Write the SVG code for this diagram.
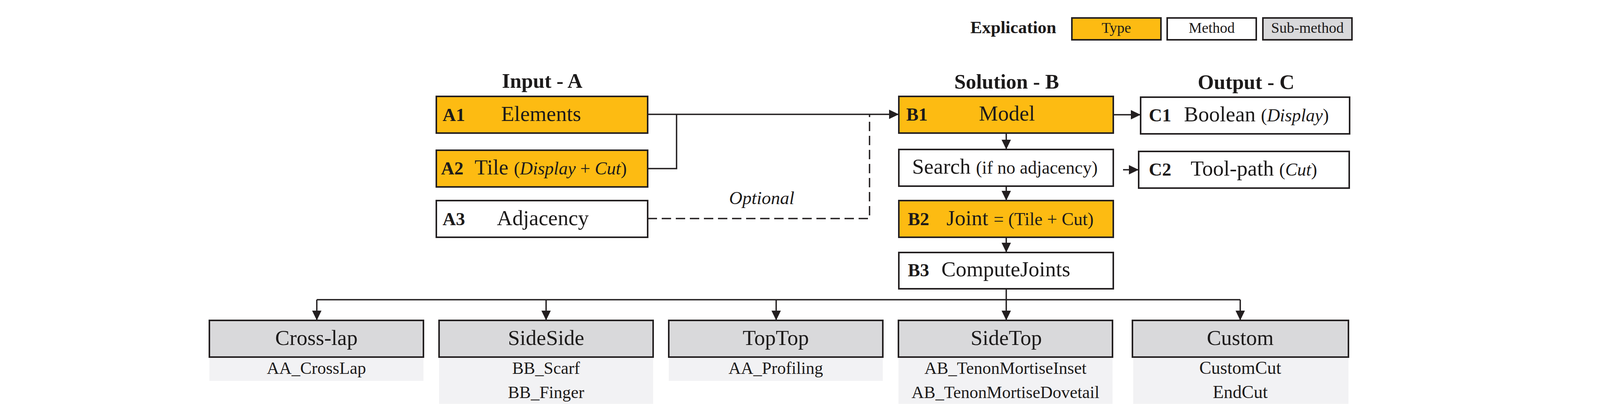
<svg xmlns="http://www.w3.org/2000/svg" width="4102" height="1066" viewBox="0 0 4102 1066">
<style>
text{font-family:"Liberation Serif","Times New Roman",serif;fill:#1c1a1a}
.box{stroke:#231f20;stroke-width:4}
.type{fill:#fdbb12}
.method{fill:#ffffff}
.sub{fill:#d9d9db}
.subsub{fill:#f2f2f4;stroke:none}
.lbl{font-weight:bold;font-size:47px}
.main{font-size:55px}
.sm{font-size:46px}
.it{font-style:italic}
.hdr{font-weight:bold;font-size:53px;text-anchor:middle}
.leg{font-size:38px;text-anchor:middle}
.ttl{font-size:55px;text-anchor:middle}
.st{font-size:44px;text-anchor:middle}
.st2{font-size:46px;text-anchor:middle}
.ln{fill:none;stroke:#231f20;stroke-width:3.5}
.arr{marker-end:url(#ah)}
.dash{stroke-dasharray:24 12}
</style>
<defs>
<marker id="ah" markerUnits="userSpaceOnUse" markerWidth="26" markerHeight="24" refX="25" refY="12" orient="auto">
<path d="M0,0 L25,12 L0,24 z" fill="#231f20"/>
</marker>
</defs>

<g id="legend">
<text x="2484" y="85" font-weight="bold" font-size="45">Explication</text>
<rect class="box type" x="2744" y="46" width="228" height="56"/>
<text class="leg" x="2858" y="84">Type</text>
<rect class="box method" x="2988" y="46" width="228" height="56"/>
<text class="leg" x="3102" y="84">Method</text>
<rect class="box sub" x="3233" y="46" width="228" height="56"/>
<text class="leg" x="3347" y="84">Sub-method</text>
</g>

<g id="headers">
<text class="hdr" x="1388" y="225">Input - A</text>
<text class="hdr" x="2577" y="227">Solution - B</text>
<text class="hdr" x="3190" y="228">Output - C</text>
</g>

<g id="connectors">
<line class="ln arr" x1="1658" y1="293" x2="2301" y2="293"/>
<polyline class="ln" points="1658,432 1732,432 1732,293"/>
<polyline class="ln dash" points="1658,560 2226,560 2226,293"/>
<line class="ln arr" x1="2850" y1="294" x2="2920" y2="294"/>
<line class="ln arr" x1="2875" y1="435" x2="2915" y2="435"/>
<line class="ln arr" x1="2576" y1="341" x2="2576" y2="383"/>
<line class="ln arr" x1="2576" y1="477" x2="2576" y2="514"/>
<line class="ln arr" x1="2576" y1="608" x2="2576" y2="647"/>
<line class="ln arr" x1="2576" y1="740" x2="2576" y2="821"/>
<line class="ln" x1="811" y1="768" x2="3175" y2="768"/>
<polyline class="ln arr" points="811,768 811,821"/>
<polyline class="ln arr" points="1398,768 1398,821"/>
<polyline class="ln arr" points="1987,768 1987,821"/>
<polyline class="ln arr" points="3175,768 3175,821"/>
<text class="it" x="1950" y="523" font-size="47" text-anchor="middle">Optional</text>
</g>

<g id="A1">
<rect class="box type" x="1117" y="247" width="541" height="94"/>
<text class="lbl" x="1133" y="310">A1</text>
<text class="main" x="1283" y="310">Elements</text>
</g>
<g id="A2">
<rect class="box type" x="1117" y="385" width="541" height="94"/>
<text class="lbl" x="1129" y="447">A2</text>
<text class="main" x="1215" y="447">Tile <tspan class="sm">(<tspan class="it">Display</tspan> + <tspan class="it">Cut</tspan>)</tspan></text>
</g>
<g id="A3">
<rect class="box method" x="1117" y="514" width="541" height="94"/>
<text class="lbl" x="1133" y="577">A3</text>
<text class="main" x="1272" y="577">Adjacency</text>
</g>

<g id="B1">
<rect class="box type" x="2301" y="247" width="549" height="94"/>
<text class="lbl" x="2320" y="309">B1</text>
<text class="main" x="2506" y="309">Model</text>
</g>
<g id="Search">
<rect class="box method" x="2301" y="383" width="549" height="94"/>
<text class="main" x="2335" y="445">Search <tspan class="sm">(if no adjacency)</tspan></text>
</g>
<g id="B2">
<rect class="box type" x="2301" y="514" width="549" height="94"/>
<text class="lbl" x="2324" y="577">B2</text>
<text class="main" x="2423" y="577">Joint <tspan class="sm">= (Tile + Cut)</tspan></text>
</g>
<g id="B3">
<rect class="box method" x="2301" y="647" width="549" height="93"/>
<text class="lbl" x="2324" y="708">B3</text>
<text class="main" x="2410" y="708">ComputeJoints</text>
</g>

<g id="C1">
<rect class="box method" x="2920" y="249" width="535" height="94"/>
<text class="lbl" x="2941" y="311">C1</text>
<text class="main" x="3031" y="311">Boolean <tspan class="sm">(<tspan class="it">Display</tspan>)</tspan></text>
</g>
<g id="C2">
<rect class="box method" x="2915" y="388" width="539" height="94"/>
<text class="lbl" x="2941" y="450">C2</text>
<text class="main" x="3048" y="450">Tool-path <tspan class="sm">(<tspan class="it">Cut</tspan>)</tspan></text>
</g>

<g id="CrossLap">
<rect class="subsub" x="536" y="915" width="548" height="61"/>
<rect class="box sub" x="536" y="821" width="548" height="94"/>
<text class="ttl" x="810" y="884">Cross-lap</text>
<text class="st" x="810" y="958">AA_CrossLap</text>
</g>
<g id="SideSide">
<rect class="subsub" x="1124" y="915" width="548" height="120"/>
<rect class="box sub" x="1124" y="821" width="548" height="94"/>
<text class="ttl" x="1398" y="884">SideSide</text>
<text class="st" x="1398" y="958">BB_Scarf</text>
<text class="st" x="1398" y="1020">BB_Finger</text>
</g>
<g id="TopTop">
<rect class="subsub" x="1712" y="915" width="548" height="61"/>
<rect class="box sub" x="1712" y="821" width="548" height="94"/>
<text class="ttl" x="1986" y="884">TopTop</text>
<text class="st" x="1986" y="958">AA_Profiling</text>
</g>
<g id="SideTop">
<rect class="subsub" x="2300" y="915" width="548" height="120"/>
<rect class="box sub" x="2300" y="821" width="548" height="94"/>
<text class="ttl" x="2576" y="884">SideTop</text>
<text class="st" x="2574" y="958">AB_TenonMortiseInset</text>
<text class="st" x="2574" y="1020">AB_TenonMortiseDovetail</text>
</g>
<g id="Custom">
<rect class="subsub" x="2901" y="915" width="551" height="120"/>
<rect class="box sub" x="2899" y="821" width="553" height="94"/>
<text class="ttl" x="3175" y="884">Custom</text>
<text class="st2" x="3175" y="958">CustomCut</text>
<text class="st2" x="3175" y="1020">EndCut</text>
</g>
</svg>
